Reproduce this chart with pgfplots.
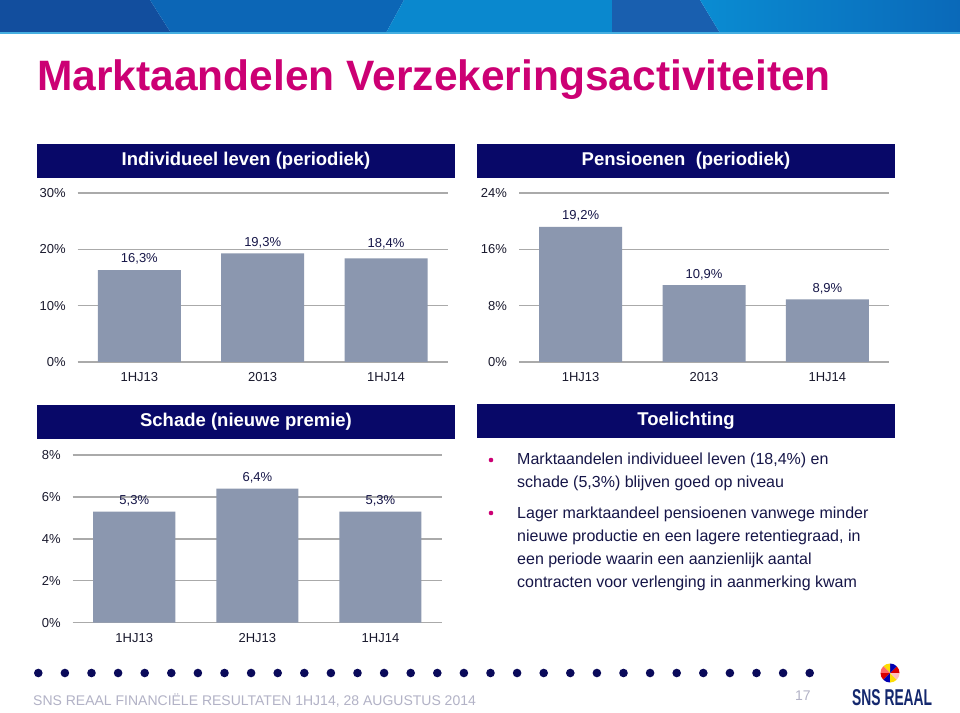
\documentclass[border=0pt]{standalone}
\usepackage{fontspec}
\setmainfont{Liberation Sans}
\usepackage{graphicx}
\usepackage{pgfplots}
\pgfplotsset{compat=1.18}
\definecolor{navy}{RGB}{8,8,104}
\definecolor{barcol}{RGB}{139,151,175}
\definecolor{gridgray}{RGB}{170,170,170}
\definecolor{magenta2}{RGB}{204,0,116}
\definecolor{txtnavy}{RGB}{22,22,72}
\definecolor{lblcol}{RGB}{25,25,45}
\definecolor{footgray}{RGB}{178,178,198}
\definecolor{dotnavy}{RGB}{10,10,90}
\definecolor{logonavy}{RGB}{20,40,110}
\definecolor{bandA}{RGB}{18,78,158}
\definecolor{bandB}{RGB}{12,102,182}
\definecolor{bandC}{RGB}{10,136,206}
\definecolor{bandD}{RGB}{25,95,175}
\definecolor{bandE}{RGB}{10,140,210}
\definecolor{bandF}{RGB}{10,105,185}
\definecolor{bandline}{RGB}{70,175,225}

\pgfplotsset{
  slidebar/.style={
    scale only axis, anchor=south west,
    ybar, bar width=83pt,
    xmin=-0.5, xmax=2.5, ymin=0,
    enlarge x limits=false, enlarge y limits=false,
    xtick={0,1,2},
    axis line style={draw=none},
    major tick length=0pt,
    ymajorgrids, grid style={draw=gridgray, line width=1.4pt},
    tick label style={font=\fontsize{13}{15}\selectfont, text=lblcol},
    /pgf/number format/assume math mode=true,
    yticklabel={\pgfmathprintnumber{\tick}\%},
    yticklabel style={xshift=-8.5pt},
    xticklabel style={yshift=-7pt},
    nodes near coords={\pgfmathprintnumber[fixed,fixed zerofill,precision=1,use comma]{\pgfplotspointmeta}\%},
    every node near coord/.append style={font=\fontsize{13}{15}\selectfont, text=txtnavy, yshift=2pt},
    clip=false,
  }
}

\begin{document}
\begin{tikzpicture}
\path[use as bounding box, fill=white] (0pt,0pt) rectangle (960pt,712pt);
\begin{scope}[shift={(0pt,712pt)}, x=1pt, y=-1pt]
  % top band
  \fill[bandA] (0,0) -- (150,0) -- (171,33) -- (0,33) -- cycle;
  \fill[bandB] (150,0) -- (404,0) -- (386,33) -- (171,33) -- cycle;
  \fill[bandC] (404,0) -- (612,0) -- (612,33) -- (386,33) -- cycle;
  \fill[bandD] (612,0) -- (700,0) -- (720,33) -- (612,33) -- cycle;
  \shade[left color=bandE, right color=bandF] (700,0) -- (960,0) -- (960,33) -- (720,33) -- cycle;
  \fill[bandline] (0,32) rectangle (960,34);
  % title
  \node[anchor=base west, inner sep=0pt, text=magenta2, font=\fontsize{42.5}{48}\selectfont\bfseries] at (37,90.7) {Marktaandelen Verzekeringsactiviteiten};
  % header boxes
  \fill[navy] (37,144) rectangle (455,178);
  \fill[navy] (477,144) rectangle (895,178);
  \fill[navy] (37,405) rectangle (455,439);
  \fill[navy] (477,404) rectangle (895,438);
  \node[text=white, font=\fontsize{18.5}{20}\selectfont\bfseries] at (246,161) {Individueel leven (periodiek)};
  \node[text=white, font=\fontsize{18.5}{20}\selectfont\bfseries] at (686,161) {Pensioenen\ \ (periodiek)};
  \node[text=white, font=\fontsize{18.5}{20}\selectfont\bfseries] at (246,422) {Schade (nieuwe premie)};
  \node[text=white, font=\fontsize{18.5}{20}\selectfont\bfseries] at (686,421) {Toelichting};
  % bullets and text
  \fill[magenta2] (491,460) circle (2.3pt);
  \fill[magenta2] (491,513) circle (2.3pt);
  \begin{scope}[every node/.style={anchor=base west, inner sep=0pt, text=txtnavy, font=\fontsize{16}{19}\selectfont}]
    \node at (517,465) {Marktaandelen individueel leven (18,4\%) en};
    \node at (517,487.5) {schade (5,3\%) blijven goed op niveau};
    \node at (517,518.5) {Lager marktaandeel pensioenen vanwege minder};
    \node at (517,541) {nieuwe productie en een lagere retentiegraad, in};
    \node at (517,564) {een periode waarin een aanzienlijk aantal};
    \node at (517,587) {contracten voor verlenging in aanmerking kwam};
  \end{scope}
  % dots
  \foreach \i in {0,...,29} {\fill[dotnavy] (38.3+26.6*\i,673) circle (4.3pt);}
  % footer
  \node[anchor=base west, inner sep=0pt, text=footgray, font=\fontsize{14}{16}\selectfont] at (33,705) {SNS REAAL FINANCIËLE RESULTATEN 1HJ14, 28 AUGUSTUS 2014};
  \node[anchor=base west, inner sep=0pt, text=footgray, font=\fontsize{14}{16}\selectfont] at (795,700) {17};
  \node[anchor=base west, inner sep=0pt, text=logonavy] at (852,705) {\resizebox{80pt}{16pt}{\bfseries SNS REAAL}};
  % logo ball
  \fill[white] (890,673) circle (9.5pt);
  \fill[red!85!black] (890,673) -- ++(0:9.5pt) arc (0:45:9.5pt) -- cycle;
  \fill[blue!70!black] (890,673) -- ++(45:9.5pt) arc (45:90:9.5pt) -- cycle;
  \fill[yellow!80!orange] (890,673) -- ++(90:9.5pt) arc (90:135:9.5pt) -- cycle;
  \fill[red!60] (890,673) -- ++(135:9.5pt) arc (135:180:9.5pt) -- cycle;
  \fill[red!85!black] (890,673) -- ++(180:9.5pt) arc (180:225:9.5pt) -- cycle;
  \fill[blue!70!black] (890,673) -- ++(225:9.5pt) arc (225:270:9.5pt) -- cycle;
  \fill[yellow!80!orange] (890,673) -- ++(270:9.5pt) arc (270:315:9.5pt) -- cycle;
  \fill[pink] (890,673) -- ++(315:9.5pt) arc (315:360:9.5pt) -- cycle;
\end{scope}

\begin{axis}[slidebar, at={(77.7pt,350pt)}, width=370pt, height=169pt,
  ymax=30, ytick={0,10,20,30}, xticklabels={1HJ13,2013,1HJ14},
  visualization depends on={value \thisrow{dy} \as \labdy},
  every node near coord/.append style={yshift=\labdy pt}]
\addplot[fill=barcol, draw=none] table {
x y dy
0 16.3 0
1 19.3 0
2 18.4 4
};
\end{axis}

\begin{axis}[slidebar, at={(519pt,350pt)}, width=370pt, height=169pt,
  ymax=24, ytick={0,8,16,24}, xticklabels={1HJ13,2013,1HJ14}]
\addplot[fill=barcol, draw=none] coordinates {(0,19.2) (1,10.9) (2,8.9)};
\end{axis}

\begin{axis}[slidebar, at={(72.7pt,89.3pt)}, width=369.3pt, height=167.7pt, bar width=82pt,
  ymax=8, ytick={0,2,4,6,8}, xticklabels={1HJ13,2HJ13,1HJ14}]
\addplot[fill=barcol, draw=none] coordinates {(0,5.3) (1,6.4) (2,5.3)};
\end{axis}
\end{tikzpicture}
\end{document}
